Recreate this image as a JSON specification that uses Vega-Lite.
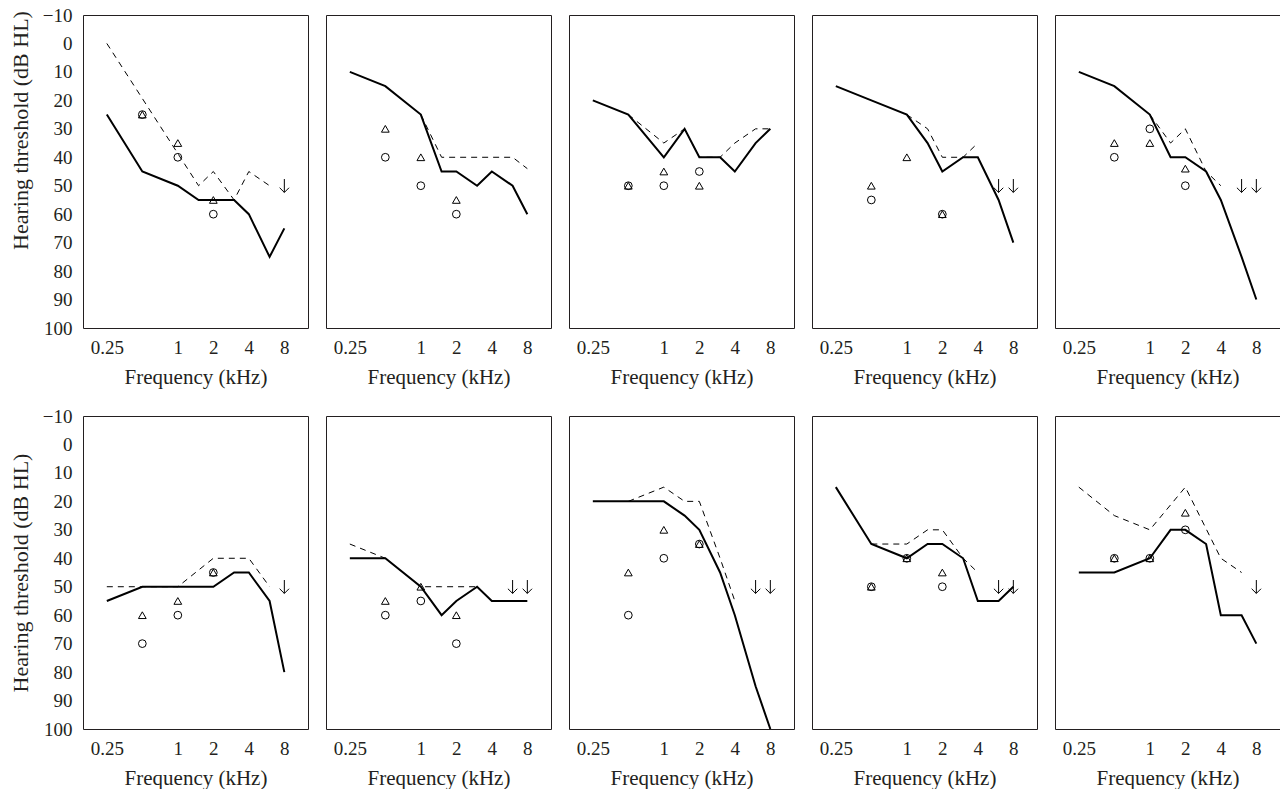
{
 "$schema": "https://vega.github.io/schema/vega-lite/v6.json",
 "padding": {"left": 8, "top": 5, "right": 0, "bottom": 0},
 "config": {
  "font": "Liberation Serif",
  "view": {"stroke": "#231f20", "strokeWidth": 1},
  "mark": {"color": "#000000"},
  "line": {"stroke": "#000000", "strokeWidth": 2},
  "point": {"filled": false, "stroke": "#000000", "strokeWidth": 1, "size": 60, "opacity": 1},
  "axis": {"grid": false, "ticks": false, "domain": false, "labelFontSize": 19, "titleFontSize": 21, "titleFontWeight": "normal", "labelColor": "#231f20", "titleColor": "#231f20", "labelPadding": 10, "labelFont": "Liberation Serif", "titleFont": "Liberation Serif"}
 },
 "data": {"values": [
  {"p":1,"k":"s","f":0.25,"v":25},{"p":1,"k":"s","f":0.5,"v":45},{"p":1,"k":"s","f":1,"v":50},{"p":1,"k":"s","f":1.5,"v":55},{"p":1,"k":"s","f":2,"v":55},{"p":1,"k":"s","f":3,"v":55},{"p":1,"k":"s","f":4,"v":60},{"p":1,"k":"s","f":6,"v":75},{"p":1,"k":"s","f":8,"v":65},
  {"p":1,"k":"d","f":0.25,"v":0},{"p":1,"k":"d","f":1.5,"v":50},{"p":1,"k":"d","f":2,"v":45},{"p":1,"k":"d","f":3,"v":55},{"p":1,"k":"d","f":4,"v":45},{"p":1,"k":"d","f":6,"v":50},
  {"p":1,"k":"t","f":0.5,"v":25},{"p":1,"k":"t","f":1,"v":35},{"p":1,"k":"t","f":2,"v":55},
  {"p":1,"k":"c","f":0.5,"v":25},{"p":1,"k":"c","f":1,"v":40},{"p":1,"k":"c","f":2,"v":60},
  {"p":1,"k":"a","f":8,"v":50},

  {"p":2,"k":"s","f":0.25,"v":10},{"p":2,"k":"s","f":0.5,"v":15},{"p":2,"k":"s","f":1,"v":25},{"p":2,"k":"s","f":1.5,"v":45},{"p":2,"k":"s","f":2,"v":45},{"p":2,"k":"s","f":3,"v":50},{"p":2,"k":"s","f":4,"v":45},{"p":2,"k":"s","f":6,"v":50},{"p":2,"k":"s","f":8,"v":60},
  {"p":2,"k":"d","f":1,"v":25},{"p":2,"k":"d","f":1.5,"v":40},{"p":2,"k":"d","f":2,"v":40},{"p":2,"k":"d","f":3,"v":40},{"p":2,"k":"d","f":4,"v":40},{"p":2,"k":"d","f":6,"v":40},{"p":2,"k":"d","f":8,"v":44},
  {"p":2,"k":"t","f":0.5,"v":30},{"p":2,"k":"t","f":1,"v":40},{"p":2,"k":"t","f":2,"v":55},
  {"p":2,"k":"c","f":0.5,"v":40},{"p":2,"k":"c","f":1,"v":50},{"p":2,"k":"c","f":2,"v":60},

  {"p":3,"k":"s","f":0.25,"v":20},{"p":3,"k":"s","f":0.5,"v":25},{"p":3,"k":"s","f":1,"v":40},{"p":3,"k":"s","f":1.5,"v":30},{"p":3,"k":"s","f":2,"v":40},{"p":3,"k":"s","f":3,"v":40},{"p":3,"k":"s","f":4,"v":45},{"p":3,"k":"s","f":6,"v":35},{"p":3,"k":"s","f":8,"v":30},
  {"p":3,"k":"d","f":0.5,"v":25},{"p":3,"k":"d","f":1,"v":35},{"p":3,"k":"d","f":1.5,"v":30},{"p":3,"k":"d","f":2,"v":40},{"p":3,"k":"d","f":3,"v":40},{"p":3,"k":"d","f":4,"v":35},{"p":3,"k":"d","f":6,"v":30},{"p":3,"k":"d","f":8,"v":30},
  {"p":3,"k":"t","f":0.5,"v":50},{"p":3,"k":"t","f":1,"v":45},{"p":3,"k":"t","f":2,"v":50},
  {"p":3,"k":"c","f":0.5,"v":50},{"p":3,"k":"c","f":1,"v":50},{"p":3,"k":"c","f":2,"v":45},

  {"p":4,"k":"s","f":0.25,"v":15},{"p":4,"k":"s","f":0.5,"v":20},{"p":4,"k":"s","f":1,"v":25},{"p":4,"k":"s","f":1.5,"v":35},{"p":4,"k":"s","f":2,"v":45},{"p":4,"k":"s","f":3,"v":40},{"p":4,"k":"s","f":4,"v":40},{"p":4,"k":"s","f":6,"v":55},{"p":4,"k":"s","f":8,"v":70},
  {"p":4,"k":"d","f":1,"v":25},{"p":4,"k":"d","f":1.5,"v":30},{"p":4,"k":"d","f":2,"v":40},{"p":4,"k":"d","f":3,"v":40},{"p":4,"k":"d","f":4,"v":35},
  {"p":4,"k":"t","f":0.5,"v":50},{"p":4,"k":"t","f":1,"v":40},{"p":4,"k":"t","f":2,"v":60},
  {"p":4,"k":"c","f":0.5,"v":55},{"p":4,"k":"c","f":2,"v":60},
  {"p":4,"k":"a","f":6,"v":50},{"p":4,"k":"a","f":8,"v":50},

  {"p":5,"k":"s","f":0.25,"v":10},{"p":5,"k":"s","f":0.5,"v":15},{"p":5,"k":"s","f":1,"v":25},{"p":5,"k":"s","f":1.5,"v":40},{"p":5,"k":"s","f":2,"v":40},{"p":5,"k":"s","f":3,"v":45},{"p":5,"k":"s","f":4,"v":55},{"p":5,"k":"s","f":6,"v":75},{"p":5,"k":"s","f":8,"v":90},
  {"p":5,"k":"d","f":1,"v":25},{"p":5,"k":"d","f":1.5,"v":35},{"p":5,"k":"d","f":2,"v":30},{"p":5,"k":"d","f":3,"v":45},{"p":5,"k":"d","f":4,"v":50},
  {"p":5,"k":"t","f":0.5,"v":35},{"p":5,"k":"t","f":1,"v":35},{"p":5,"k":"t","f":2,"v":44},
  {"p":5,"k":"c","f":0.5,"v":40},{"p":5,"k":"c","f":1,"v":30},{"p":5,"k":"c","f":2,"v":50},
  {"p":5,"k":"a","f":6,"v":50},{"p":5,"k":"a","f":8,"v":50},

  {"p":6,"k":"s","f":0.25,"v":55},{"p":6,"k":"s","f":0.5,"v":50},{"p":6,"k":"s","f":1,"v":50},{"p":6,"k":"s","f":2,"v":50},{"p":6,"k":"s","f":3,"v":45},{"p":6,"k":"s","f":4,"v":45},{"p":6,"k":"s","f":6,"v":55},{"p":6,"k":"s","f":8,"v":80},
  {"p":6,"k":"d","f":0.25,"v":50},{"p":6,"k":"d","f":0.5,"v":50},{"p":6,"k":"d","f":1,"v":50},{"p":6,"k":"d","f":2,"v":40},{"p":6,"k":"d","f":3,"v":40},{"p":6,"k":"d","f":4,"v":40},{"p":6,"k":"d","f":6,"v":50},
  {"p":6,"k":"t","f":0.5,"v":60},{"p":6,"k":"t","f":1,"v":55},{"p":6,"k":"t","f":2,"v":45},
  {"p":6,"k":"c","f":0.5,"v":70},{"p":6,"k":"c","f":1,"v":60},{"p":6,"k":"c","f":2,"v":45},
  {"p":6,"k":"a","f":8,"v":50},

  {"p":7,"k":"s","f":0.25,"v":40},{"p":7,"k":"s","f":0.5,"v":40},{"p":7,"k":"s","f":1,"v":50},{"p":7,"k":"s","f":1.5,"v":60},{"p":7,"k":"s","f":2,"v":55},{"p":7,"k":"s","f":3,"v":50},{"p":7,"k":"s","f":4,"v":55},{"p":7,"k":"s","f":6,"v":55},{"p":7,"k":"s","f":8,"v":55},
  {"p":7,"k":"d","f":0.25,"v":35},{"p":7,"k":"d","f":0.5,"v":40},{"p":7,"k":"d","f":1,"v":50},{"p":7,"k":"d","f":1.5,"v":50},{"p":7,"k":"d","f":2,"v":50},{"p":7,"k":"d","f":3,"v":50},
  {"p":7,"k":"t","f":0.5,"v":55},{"p":7,"k":"t","f":1,"v":50},{"p":7,"k":"t","f":2,"v":60},
  {"p":7,"k":"c","f":0.5,"v":60},{"p":7,"k":"c","f":1,"v":55},{"p":7,"k":"c","f":2,"v":70},
  {"p":7,"k":"a","f":6,"v":50},{"p":7,"k":"a","f":8,"v":50},

  {"p":8,"k":"s","f":0.25,"v":20},{"p":8,"k":"s","f":0.5,"v":20},{"p":8,"k":"s","f":1,"v":20},{"p":8,"k":"s","f":1.5,"v":25},{"p":8,"k":"s","f":2,"v":30},{"p":8,"k":"s","f":3,"v":45},{"p":8,"k":"s","f":4,"v":60},{"p":8,"k":"s","f":6,"v":85},{"p":8,"k":"s","f":8,"v":100},
  {"p":8,"k":"d","f":0.5,"v":20},{"p":8,"k":"d","f":1,"v":15},{"p":8,"k":"d","f":1.5,"v":20},{"p":8,"k":"d","f":2,"v":20},{"p":8,"k":"d","f":3,"v":40},{"p":8,"k":"d","f":4,"v":55},
  {"p":8,"k":"t","f":0.5,"v":45},{"p":8,"k":"t","f":1,"v":30},{"p":8,"k":"t","f":2,"v":35},
  {"p":8,"k":"c","f":0.5,"v":60},{"p":8,"k":"c","f":1,"v":40},{"p":8,"k":"c","f":2,"v":35},
  {"p":8,"k":"a","f":6,"v":50},{"p":8,"k":"a","f":8,"v":50},

  {"p":9,"k":"s","f":0.25,"v":15},{"p":9,"k":"s","f":0.5,"v":35},{"p":9,"k":"s","f":1,"v":40},{"p":9,"k":"s","f":1.5,"v":35},{"p":9,"k":"s","f":2,"v":35},{"p":9,"k":"s","f":3,"v":40},{"p":9,"k":"s","f":4,"v":55},{"p":9,"k":"s","f":6,"v":55},{"p":9,"k":"s","f":8,"v":50},
  {"p":9,"k":"d","f":0.5,"v":35},{"p":9,"k":"d","f":1,"v":35},{"p":9,"k":"d","f":1.5,"v":30},{"p":9,"k":"d","f":2,"v":30},{"p":9,"k":"d","f":3,"v":40},{"p":9,"k":"d","f":4,"v":45},
  {"p":9,"k":"t","f":0.5,"v":50},{"p":9,"k":"t","f":1,"v":40},{"p":9,"k":"t","f":2,"v":45},
  {"p":9,"k":"c","f":0.5,"v":50},{"p":9,"k":"c","f":1,"v":40},{"p":9,"k":"c","f":2,"v":50},
  {"p":9,"k":"a","f":6,"v":50},{"p":9,"k":"a","f":8,"v":50},

  {"p":10,"k":"s","f":0.25,"v":45},{"p":10,"k":"s","f":0.5,"v":45},{"p":10,"k":"s","f":1,"v":40},{"p":10,"k":"s","f":1.5,"v":30},{"p":10,"k":"s","f":2,"v":30},{"p":10,"k":"s","f":3,"v":35},{"p":10,"k":"s","f":4,"v":60},{"p":10,"k":"s","f":6,"v":60},{"p":10,"k":"s","f":8,"v":70},
  {"p":10,"k":"d","f":0.25,"v":15},{"p":10,"k":"d","f":0.5,"v":25},{"p":10,"k":"d","f":1,"v":30},{"p":10,"k":"d","f":2,"v":15},{"p":10,"k":"d","f":4,"v":40},{"p":10,"k":"d","f":6,"v":45},
  {"p":10,"k":"t","f":0.5,"v":40},{"p":10,"k":"t","f":1,"v":40},{"p":10,"k":"t","f":2,"v":24},
  {"p":10,"k":"c","f":0.5,"v":40},{"p":10,"k":"c","f":1,"v":40},{"p":10,"k":"c","f":2,"v":30},
  {"p":10,"k":"a","f":8,"v":50}
 ]},
 "spacing": 18,
 "vconcat": [
  {"spacing": 16, "hconcat": [
   {"transform": [{"filter": "datum.p == 1"}], "width": 225, "height": 313,
    "encoding": {"x": {"field": "f", "type": "quantitative", "scale": {"type": "log", "domain": [0.157, 12.7], "nice": false}, "axis": {"values": [0.25, 1, 2, 4, 8], "format": "~g", "title": "Frequency (kHz)", "titlePadding": 9}},
                 "y": {"field": "v", "type": "quantitative", "scale": {"domain": [-10, 100], "reverse": true, "nice": false, "zero": false}, "axis": {"values": [-10, 0, 10, 20, 30, 40, 50, 60, 70, 80, 90, 100], "title": "Hearing threshold (dB HL)", "titlePadding": 10, "labelPadding": 11, "titleFontSize": 22, "titleY": 115}}},
    "layer": [
     {"transform": [{"filter": "datum.k === 's'"}], "mark": "line"},
     {"transform": [{"filter": "datum.k === 'd'"}], "mark": {"type": "line", "strokeWidth": 1, "strokeDash": [6, 5]}},
     {"transform": [{"filter": "datum.k === 't'"}], "mark": {"type": "point", "shape": "triangle-up"}},
     {"transform": [{"filter": "datum.k === 'c'"}], "mark": {"type": "point", "shape": "circle"}},
     {"transform": [{"filter": "datum.k === 'a'"}], "mark": {"type": "point", "shape": "M0,-1L0,1M-0.7,0.3L0,1L0.7,0.3", "size": 180}}
    ]},
   {"transform": [{"filter": "datum.p == 2"}], "width": 225, "height": 313,
    "encoding": {"x": {"field": "f", "type": "quantitative", "scale": {"type": "log", "domain": [0.157, 12.7], "nice": false}, "axis": {"values": [0.25, 1, 2, 4, 8], "format": "~g", "title": "Frequency (kHz)", "titlePadding": 9}},
                 "y": {"field": "v", "type": "quantitative", "scale": {"domain": [-10, 100], "reverse": true, "nice": false, "zero": false}, "axis": null}},
    "layer": [
     {"transform": [{"filter": "datum.k === 's'"}], "mark": "line"},
     {"transform": [{"filter": "datum.k === 'd'"}], "mark": {"type": "line", "strokeWidth": 1, "strokeDash": [6, 5]}},
     {"transform": [{"filter": "datum.k === 't'"}], "mark": {"type": "point", "shape": "triangle-up"}},
     {"transform": [{"filter": "datum.k === 'c'"}], "mark": {"type": "point", "shape": "circle"}},
     {"transform": [{"filter": "datum.k === 'a'"}], "mark": {"type": "point", "shape": "M0,-1L0,1M-0.7,0.3L0,1L0.7,0.3", "size": 180}}
    ]},
   {"transform": [{"filter": "datum.p == 3"}], "width": 225, "height": 313,
    "encoding": {"x": {"field": "f", "type": "quantitative", "scale": {"type": "log", "domain": [0.157, 12.7], "nice": false}, "axis": {"values": [0.25, 1, 2, 4, 8], "format": "~g", "title": "Frequency (kHz)", "titlePadding": 9}},
                 "y": {"field": "v", "type": "quantitative", "scale": {"domain": [-10, 100], "reverse": true, "nice": false, "zero": false}, "axis": null}},
    "layer": [
     {"transform": [{"filter": "datum.k === 's'"}], "mark": "line"},
     {"transform": [{"filter": "datum.k === 'd'"}], "mark": {"type": "line", "strokeWidth": 1, "strokeDash": [6, 5]}},
     {"transform": [{"filter": "datum.k === 't'"}], "mark": {"type": "point", "shape": "triangle-up"}},
     {"transform": [{"filter": "datum.k === 'c'"}], "mark": {"type": "point", "shape": "circle"}},
     {"transform": [{"filter": "datum.k === 'a'"}], "mark": {"type": "point", "shape": "M0,-1L0,1M-0.7,0.3L0,1L0.7,0.3", "size": 180}}
    ]},
   {"transform": [{"filter": "datum.p == 4"}], "width": 225, "height": 313,
    "encoding": {"x": {"field": "f", "type": "quantitative", "scale": {"type": "log", "domain": [0.157, 12.7], "nice": false}, "axis": {"values": [0.25, 1, 2, 4, 8], "format": "~g", "title": "Frequency (kHz)", "titlePadding": 9}},
                 "y": {"field": "v", "type": "quantitative", "scale": {"domain": [-10, 100], "reverse": true, "nice": false, "zero": false}, "axis": null}},
    "layer": [
     {"transform": [{"filter": "datum.k === 's'"}], "mark": "line"},
     {"transform": [{"filter": "datum.k === 'd'"}], "mark": {"type": "line", "strokeWidth": 1, "strokeDash": [6, 5]}},
     {"transform": [{"filter": "datum.k === 't'"}], "mark": {"type": "point", "shape": "triangle-up"}},
     {"transform": [{"filter": "datum.k === 'c'"}], "mark": {"type": "point", "shape": "circle"}},
     {"transform": [{"filter": "datum.k === 'a'"}], "mark": {"type": "point", "shape": "M0,-1L0,1M-0.7,0.3L0,1L0.7,0.3", "size": 180}}
    ]},
   {"transform": [{"filter": "datum.p == 5"}], "width": 225, "height": 313,
    "encoding": {"x": {"field": "f", "type": "quantitative", "scale": {"type": "log", "domain": [0.157, 12.7], "nice": false}, "axis": {"values": [0.25, 1, 2, 4, 8], "format": "~g", "title": "Frequency (kHz)", "titlePadding": 9}},
                 "y": {"field": "v", "type": "quantitative", "scale": {"domain": [-10, 100], "reverse": true, "nice": false, "zero": false}, "axis": null}},
    "layer": [
     {"transform": [{"filter": "datum.k === 's'"}], "mark": "line"},
     {"transform": [{"filter": "datum.k === 'd'"}], "mark": {"type": "line", "strokeWidth": 1, "strokeDash": [6, 5]}},
     {"transform": [{"filter": "datum.k === 't'"}], "mark": {"type": "point", "shape": "triangle-up"}},
     {"transform": [{"filter": "datum.k === 'c'"}], "mark": {"type": "point", "shape": "circle"}},
     {"transform": [{"filter": "datum.k === 'a'"}], "mark": {"type": "point", "shape": "M0,-1L0,1M-0.7,0.3L0,1L0.7,0.3", "size": 180}}
    ]}
  ]},
  {"spacing": 16, "hconcat": [
   {"transform": [{"filter": "datum.p == 6"}], "width": 225, "height": 313,
    "encoding": {"x": {"field": "f", "type": "quantitative", "scale": {"type": "log", "domain": [0.157, 12.7], "nice": false}, "axis": {"values": [0.25, 1, 2, 4, 8], "format": "~g", "title": "Frequency (kHz)", "titlePadding": 9}},
                 "y": {"field": "v", "type": "quantitative", "scale": {"domain": [-10, 100], "reverse": true, "nice": false, "zero": false}, "axis": {"values": [-10, 0, 10, 20, 30, 40, 50, 60, 70, 80, 90, 100], "title": "Hearing threshold (dB HL)", "titlePadding": 10, "labelPadding": 11, "titleFontSize": 22}}},
    "layer": [
     {"transform": [{"filter": "datum.k === 's'"}], "mark": "line"},
     {"transform": [{"filter": "datum.k === 'd'"}], "mark": {"type": "line", "strokeWidth": 1, "strokeDash": [6, 5]}},
     {"transform": [{"filter": "datum.k === 't'"}], "mark": {"type": "point", "shape": "triangle-up"}},
     {"transform": [{"filter": "datum.k === 'c'"}], "mark": {"type": "point", "shape": "circle"}},
     {"transform": [{"filter": "datum.k === 'a'"}], "mark": {"type": "point", "shape": "M0,-1L0,1M-0.7,0.3L0,1L0.7,0.3", "size": 180}}
    ]},
   {"transform": [{"filter": "datum.p == 7"}], "width": 225, "height": 313,
    "encoding": {"x": {"field": "f", "type": "quantitative", "scale": {"type": "log", "domain": [0.157, 12.7], "nice": false}, "axis": {"values": [0.25, 1, 2, 4, 8], "format": "~g", "title": "Frequency (kHz)", "titlePadding": 9}},
                 "y": {"field": "v", "type": "quantitative", "scale": {"domain": [-10, 100], "reverse": true, "nice": false, "zero": false}, "axis": null}},
    "layer": [
     {"transform": [{"filter": "datum.k === 's'"}], "mark": "line"},
     {"transform": [{"filter": "datum.k === 'd'"}], "mark": {"type": "line", "strokeWidth": 1, "strokeDash": [6, 5]}},
     {"transform": [{"filter": "datum.k === 't'"}], "mark": {"type": "point", "shape": "triangle-up"}},
     {"transform": [{"filter": "datum.k === 'c'"}], "mark": {"type": "point", "shape": "circle"}},
     {"transform": [{"filter": "datum.k === 'a'"}], "mark": {"type": "point", "shape": "M0,-1L0,1M-0.7,0.3L0,1L0.7,0.3", "size": 180}}
    ]},
   {"transform": [{"filter": "datum.p == 8"}], "width": 225, "height": 313,
    "encoding": {"x": {"field": "f", "type": "quantitative", "scale": {"type": "log", "domain": [0.157, 12.7], "nice": false}, "axis": {"values": [0.25, 1, 2, 4, 8], "format": "~g", "title": "Frequency (kHz)", "titlePadding": 9}},
                 "y": {"field": "v", "type": "quantitative", "scale": {"domain": [-10, 100], "reverse": true, "nice": false, "zero": false}, "axis": null}},
    "layer": [
     {"transform": [{"filter": "datum.k === 's'"}], "mark": "line"},
     {"transform": [{"filter": "datum.k === 'd'"}], "mark": {"type": "line", "strokeWidth": 1, "strokeDash": [6, 5]}},
     {"transform": [{"filter": "datum.k === 't'"}], "mark": {"type": "point", "shape": "triangle-up"}},
     {"transform": [{"filter": "datum.k === 'c'"}], "mark": {"type": "point", "shape": "circle"}},
     {"transform": [{"filter": "datum.k === 'a'"}], "mark": {"type": "point", "shape": "M0,-1L0,1M-0.7,0.3L0,1L0.7,0.3", "size": 180}}
    ]},
   {"transform": [{"filter": "datum.p == 9"}], "width": 225, "height": 313,
    "encoding": {"x": {"field": "f", "type": "quantitative", "scale": {"type": "log", "domain": [0.157, 12.7], "nice": false}, "axis": {"values": [0.25, 1, 2, 4, 8], "format": "~g", "title": "Frequency (kHz)", "titlePadding": 9}},
                 "y": {"field": "v", "type": "quantitative", "scale": {"domain": [-10, 100], "reverse": true, "nice": false, "zero": false}, "axis": null}},
    "layer": [
     {"transform": [{"filter": "datum.k === 's'"}], "mark": "line"},
     {"transform": [{"filter": "datum.k === 'd'"}], "mark": {"type": "line", "strokeWidth": 1, "strokeDash": [6, 5]}},
     {"transform": [{"filter": "datum.k === 't'"}], "mark": {"type": "point", "shape": "triangle-up"}},
     {"transform": [{"filter": "datum.k === 'c'"}], "mark": {"type": "point", "shape": "circle"}},
     {"transform": [{"filter": "datum.k === 'a'"}], "mark": {"type": "point", "shape": "M0,-1L0,1M-0.7,0.3L0,1L0.7,0.3", "size": 180}}
    ]},
   {"transform": [{"filter": "datum.p == 10"}], "width": 225, "height": 313,
    "encoding": {"x": {"field": "f", "type": "quantitative", "scale": {"type": "log", "domain": [0.157, 12.7], "nice": false}, "axis": {"values": [0.25, 1, 2, 4, 8], "format": "~g", "title": "Frequency (kHz)", "titlePadding": 9}},
                 "y": {"field": "v", "type": "quantitative", "scale": {"domain": [-10, 100], "reverse": true, "nice": false, "zero": false}, "axis": null}},
    "layer": [
     {"transform": [{"filter": "datum.k === 's'"}], "mark": "line"},
     {"transform": [{"filter": "datum.k === 'd'"}], "mark": {"type": "line", "strokeWidth": 1, "strokeDash": [6, 5]}},
     {"transform": [{"filter": "datum.k === 't'"}], "mark": {"type": "point", "shape": "triangle-up"}},
     {"transform": [{"filter": "datum.k === 'c'"}], "mark": {"type": "point", "shape": "circle"}},
     {"transform": [{"filter": "datum.k === 'a'"}], "mark": {"type": "point", "shape": "M0,-1L0,1M-0.7,0.3L0,1L0.7,0.3", "size": 180}}
    ]}
  ]}
 ]
}
